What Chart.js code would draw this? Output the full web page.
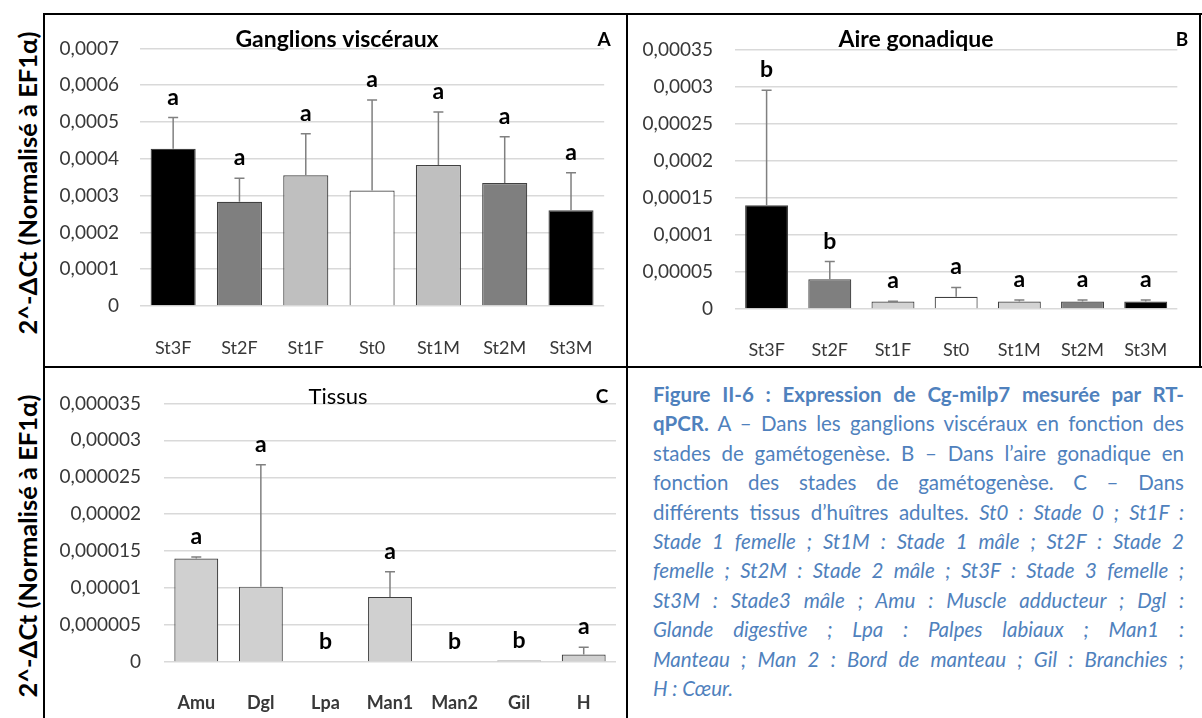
<!DOCTYPE html>
<html>
<head>
<meta charset="utf-8">
<script src="https://cdn.jsdelivr.net/npm/chart.js@4/dist/chart.umd.min.js"></script>
<style>
  body { margin: 0; background: #fff; font-family: Lato, sans-serif; }
  #page { position: relative; width: 1202px; height: 718px; overflow: hidden; }
  canvas { position: absolute; }
  .rule { position: absolute; background: #000; }
  .ytitle {
    position: absolute; width: 360px; height: 30px; line-height: 30px;
    text-align: center; font: bold 25.5px Lato, sans-serif; color: #000;
    transform: rotate(-90deg); white-space: nowrap;
  }
  #caption {
    position: absolute; left: 653px; top: 380px; width: 531px;
    font-size: 20.5px; line-height: 29.4px; color: #4f81bd;
  }
  #caption div { white-space: nowrap; }
  #caption .j { text-align: justify; text-align-last: justify; }
</style>
</head>
<body>
<div id="page">
  <canvas id="chartA" width="578" height="349" style="left:46px;top:16px"></canvas>
  <canvas id="chartB" width="569" height="349" style="left:629px;top:16px"></canvas>
  <canvas id="chartC" width="578" height="349" style="left:46px;top:369px"></canvas>

  <div class="rule" style="left:43px;top:13px;width:1159px;height:2px"></div>
  <div class="rule" style="left:43px;top:13px;width:2px;height:705px"></div>
  <div class="rule" style="left:626px;top:13px;width:2px;height:705px"></div>
  <div class="rule" style="left:43px;top:366px;width:1159px;height:2px"></div>
  <div class="rule" style="left:1199px;top:13px;width:2px;height:355px"></div>

  <div class="ytitle" style="left:-153px;top:168px">2^-ΔCt (Normalisé à EF1α)</div>
  <div class="ytitle" style="left:-153px;top:531px">2^-ΔCt (Normalisé à EF1α)</div>

  <div id="caption">
    <div class="j"><b>Figure II-6 : Expression de Cg-milp7 mesurée par RT-</b></div>
    <div class="j"><b>qPCR.</b> A – Dans les ganglions viscéraux en fonction des</div>
    <div class="j">stades de gamétogenèse. B – Dans l’aire gonadique en</div>
    <div class="j">fonction des stades de gamétogenèse. C – Dans</div>
    <div class="j">différents tissus d’huîtres adultes. <i>St0 : Stade 0 ; St1F :</i></div>
    <div class="j"><i>Stade 1 femelle ; St1M : Stade 1 mâle ; St2F : Stade 2</i></div>
    <div class="j"><i>femelle ; St2M : Stade 2 mâle ; St3F : Stade 3 femelle ;</i></div>
    <div class="j"><i>St3M : Stade3 mâle ; Amu : Muscle adducteur ; Dgl :</i></div>
    <div class="j"><i>Glande digestive ; Lpa : Palpes labiaux ; Man1 :</i></div>
    <div class="j"><i>Manteau ; Man 2 : Bord de manteau ; Gil : Branchies ;</i></div>
    <div><i>H : Cœur.</i></div>
  </div>
</div>

<script>
// stades de gamétogenèse (A et B)
const stades = ['St3F', 'St2F', 'St1F', 'St0', 'St1M', 'St2M', 'St3M'];

// A - ganglions viscéraux
const ganglionsMoy = [0.000427, 0.000283, 0.000355, 0.000314, 0.000383, 0.000334, 0.00026];
const ganglionsEt = [0.000085, 0.000064, 0.000113, 0.000246, 0.000144, 0.000126, 0.000102];
const ganglionsLettres = ['a', 'a', 'a', 'a', 'a', 'a', 'a'];
const ticksA = [0, 0.0001, 0.0002, 0.0003, 0.0004, 0.0005, 0.0006, 0.0007];
const tickLabelsA = ['0', '0,0001', '0,0002', '0,0003', '0,0004', '0,0005', '0,0006', '0,0007'];

// B - aire gonadique
const gonadeMoy = [0.00014, 0.00004, 0.00001, 0.0000165, 0.00001, 0.00001, 0.00001];
const gonadeEt = [0.000155, 0.000024, 0.0000005, 0.0000125, 0.000002, 0.000002, 0.000002];
const gonadeLettres = ['b', 'b', 'a', 'a', 'a', 'a', 'a'];
const ticksB = [0, 0.00005, 0.0001, 0.00015, 0.0002, 0.00025, 0.0003, 0.00035];
const tickLabelsB = ['0', '0,00005', '0,0001', '0,00015', '0,0002', '0,00025', '0,0003', '0,00035'];

// C - tissus
const tissus = ['Amu', 'Dgl', 'Lpa', 'Man1', 'Man2', 'Gil', 'H'];
const tissusMoy = [0.000014, 0.0000102, 0, 0.0000088, 0, 0.0000002, 0.000001];
const tissusEt = [0.0000002, 0.0000165, 0, 0.0000034, 0, 0, 0.000001];
const tissusLettres = ['a', 'a', 'b', 'a', 'b', 'b', 'a'];
const ticksC = [0, 0.000005, 0.00001, 0.000015, 0.00002, 0.000025, 0.00003, 0.000035];
const tickLabelsC = ['0', '0,000005', '0,00001', '0,000015', '0,00002', '0,000025', '0,00003', '0,000035'];

const couleursStades = ['#000000', '#7f7f7f', '#bfbfbf', '#ffffff', '#bfbfbf', '#7f7f7f', '#000000'];
const couleursGonade = ['#000000', '#7f7f7f', '#d3d3d3', '#ffffff', '#d3d3d3', '#7f7f7f', '#000000'];
const couleursTissus = tissus.map(_ => '#d0d0d0');

// error bars (upward only), significance letters, panel title and letter
function panelPlugin(p) {
    return {
        id: 'panel',
        afterDatasetsDraw(chart) {
            const ctx = chart.ctx;
            const y = chart.scales.y;
            const meta = chart.getDatasetMeta(0);
            ctx.save();
            p.values.forEach((v, i) => {
                const bx = meta.data[i].x;
                const y0 = y.getPixelForValue(v);
                const y1 = y.getPixelForValue(v + p.errors[i]);
                if (p.errors[i] > 0) {
                    ctx.strokeStyle = '#808080';
                    ctx.lineWidth = 1.5;
                    ctx.beginPath();
                    ctx.moveTo(bx, y0);
                    ctx.lineTo(bx, y1);
                    ctx.moveTo(bx - 5, y1);
                    ctx.lineTo(bx + 5, y1);
                    ctx.stroke();
                }
                ctx.fillStyle = '#000';
                ctx.font = 'bold 23px Lato';
                ctx.textAlign = 'center';
                ctx.textBaseline = 'alphabetic';
                ctx.fillText(p.letters[i], bx, y1 - 13);
            });
            ctx.textBaseline = 'middle';
            ctx.textAlign = 'center';
            ctx.font = p.titleFont;
            ctx.fillText(p.title, p.titleX, p.titleY);
            ctx.font = 'bold 19px Lato';
            ctx.fillText(p.panel, p.panelX, p.titleY);
            ctx.restore();
        }
    };
}

function makeChart(id, p) {
    return new Chart(document.getElementById(id), {
        type: 'bar',
        data: {
            labels: p.labels,
            datasets: [{
                data: p.values,
                backgroundColor: p.colors,
                borderColor: '#404040',
                borderWidth: 1.2,
                categoryPercentage: 1,
                barPercentage: 0.68
            }]
        },
        options: {
            responsive: false,
            animation: false,
            events: [],
            layout: { padding: { top: p.area.top, right: p.area.right, bottom: 0, left: 0 } },
            plugins: { legend: { display: false }, tooltip: { enabled: false } },
            scales: {
                x: {
                    grid: { display: false, drawTicks: false },
                    border: { display: false },
                    ticks: {
                        padding: p.xPad,
                        color: '#383838',
                        font: { family: 'Lato', size: 18, weight: p.xBold ? 'bold' : 'normal' }
                    },
                    afterFit: s => { s.height = p.area.xHeight; }
                },
                y: {
                    min: 0,
                    max: p.ticks[p.ticks.length - 1],
                    grid: { color: '#d9d9d9', lineWidth: 1.5, drawTicks: false },
                    border: { display: false },
                    afterBuildTicks: s => { s.ticks = p.ticks.map(v => ({ value: v })); },
                    ticks: {
                        padding: p.yPad,
                        color: '#383838',
                        font: { family: 'Lato', size: 19 },
                        callback: (v, i) => p.tickLabels[i]
                    },
                    afterFit: s => { s.width = p.area.left; }
                }
            }
        },
        plugins: [panelPlugin(p)]
    });
}

makeChart('chartA', {
    labels: stades, values: ganglionsMoy, errors: ganglionsEt, letters: ganglionsLettres,
    colors: couleursStades, ticks: ticksA, tickLabels: tickLabelsA,
    area: { left: 94, right: 7, top: 18, xHeight: 59 }, xPad: 31, yPad: 21, xBold: false,
    title: 'Ganglions viscéraux', titleFont: 'bold 23px Lato', titleX: 291, titleY: 24,
    panel: 'A', panelX: 558
});

makeChart('chartB', {
    labels: stades, values: gonadeMoy, errors: gonadeEt, letters: gonadeLettres,
    colors: couleursGonade, ticks: ticksB, tickLabels: tickLabelsB,
    area: { left: 106, right: 11, top: 13, xHeight: 56 }, xPad: 30, yPad: 22, xBold: false,
    title: 'Aire gonadique', titleFont: 'bold 23px Lato', titleX: 287, titleY: 24,
    panel: 'B', panelX: 553
});

makeChart('chartC', {
    labels: tissus, values: tissusMoy, errors: tissusEt, letters: tissusLettres,
    colors: couleursTissus, ticks: ticksC, tickLabels: tickLabelsC,
    area: { left: 118, right: 8, top: 21, xHeight: 56 }, xPad: 30, yPad: 23, xBold: true,
    title: 'Tissus', titleFont: '22px Lato', titleX: 292, titleY: 28,
    panel: 'C', panelX: 556
});
</script>
</body>
</html>
